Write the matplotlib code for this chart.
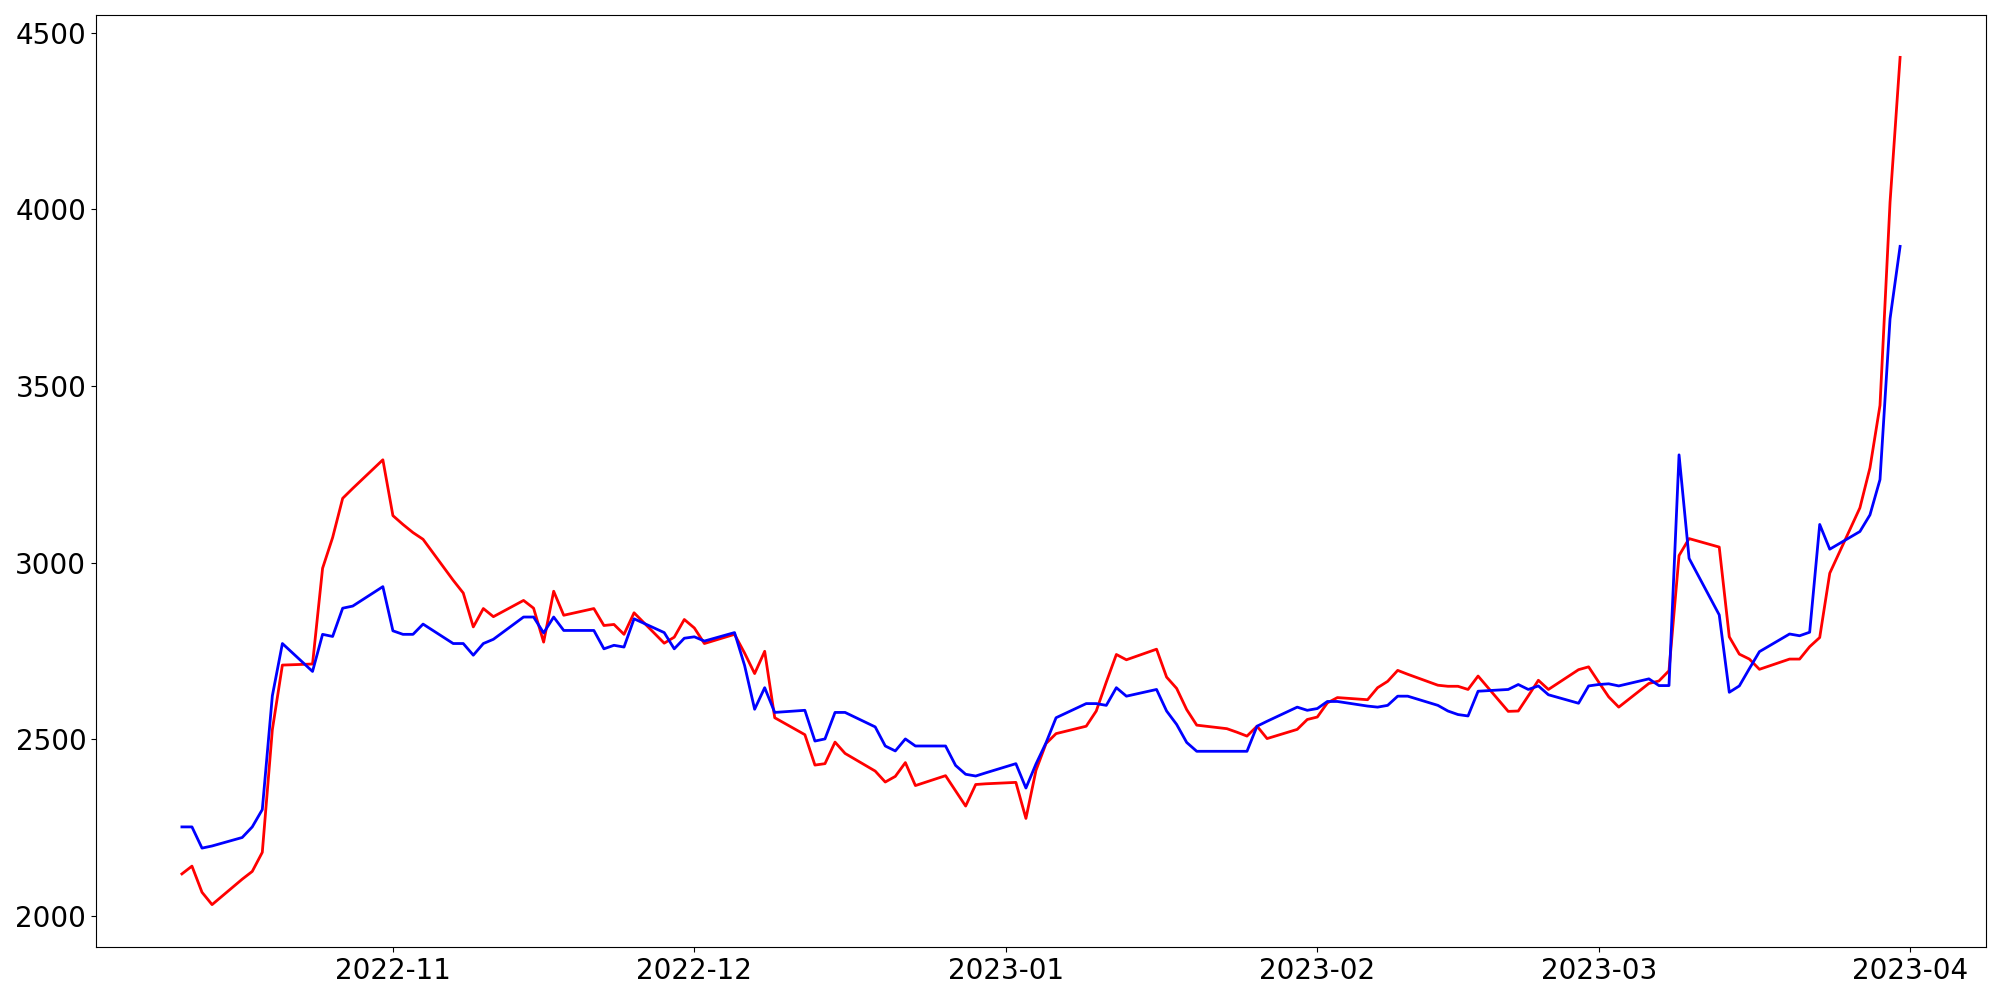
import matplotlib
matplotlib.use("Agg")
import matplotlib.pyplot as plt
import matplotlib.dates as mdates
import pandas as pd

# business days, 2022-10-11 .. 2023-03-31
dates = pd.bdate_range("2022-10-11", "2023-03-31")

red_oct = [2119, 2141, 2067, 2032, 2104, 2126, 2180, 2527, 2710, 2713, 2984,
           3071, 3182, 3210, 3291]
red_nov = [3133, 3108, 3085, 3066, 2950, 2914, 2818, 2870, 2847, 2893, 2871,
           2775, 2919, 2851, 2870, 2822, 2825, 2797, 2858, 2772, 2789, 2839]
red_dec = [2815, 2771, 2797, 2744, 2686, 2749, 2561, 2513, 2427, 2431, 2492,
           2460, 2410, 2379, 2395, 2434, 2369, 2397, 2354, 2311, 2372, 2374]
red_jan = [2378, 2276, 2412, 2488, 2516, 2537, 2580, 2662, 2740, 2725, 2755,
           2676, 2644, 2584, 2540, 2530, 2520, 2509, 2537, 2502, 2528, 2556]
red_feb = [2563, 2603, 2618, 2612, 2646, 2664, 2695, 2684, 2653, 2650, 2650,
           2641, 2679, 2579, 2580, 2623, 2667, 2641, 2697, 2705]
red_mar = [2662, 2620, 2591, 2658, 2665, 2694, 3020, 3068, 3044, 2790, 2741,
           2727, 2698, 2727, 2727, 2762, 2788, 2970, 3155, 3268, 3445, 4020,
           4430]

blue_oct = [2252, 2252, 2192, 2198, 2222, 2252, 2301, 2623, 2771, 2692, 2797,
            2791, 2871, 2877, 2932]
blue_nov = [2807, 2797, 2797, 2826, 2771, 2771, 2738, 2771, 2783, 2846, 2846,
            2801, 2846, 2808, 2808, 2756, 2766, 2761, 2841, 2802, 2756, 2786]
blue_dec = [2790, 2778, 2802, 2709, 2585, 2646, 2576, 2582, 2495, 2501, 2576,
            2576, 2535, 2481, 2467, 2501, 2481, 2481, 2426, 2401, 2396, 2405]
blue_jan = [2431, 2362, 2430, 2490, 2561, 2601, 2601, 2596, 2646, 2622, 2641,
            2580, 2542, 2491, 2466, 2466, 2466, 2466, 2537, 2551, 2591, 2582]
blue_feb = [2587, 2607, 2607, 2594, 2591, 2596, 2622, 2622, 2596, 2580, 2570,
            2566, 2636, 2641, 2655, 2641, 2651, 2626, 2602, 2651]
blue_mar = [2655, 2657, 2651, 2671, 2652, 2652, 3305, 3012, 2852, 2633, 2651,
            2700, 2748, 2798, 2793, 2803, 3108, 3038, 3088, 3135, 3235, 3690,
            3895]

red = red_oct + red_nov + red_dec + red_jan + red_feb + red_mar
blue = blue_oct + blue_nov + blue_dec + blue_jan + blue_feb + blue_mar

fig, ax = plt.subplots(figsize=(20, 10), dpi=100)
ax.plot(dates, red, color="red", lw=2)
ax.plot(dates, blue, color="blue", lw=2)

ax.xaxis.set_major_locator(mdates.MonthLocator())
ax.xaxis.set_major_formatter(mdates.DateFormatter("%Y-%m"))
ax.tick_params(labelsize=20)

fig.subplots_adjust(left=0.048, right=0.993, top=0.985, bottom=0.053)
fig.savefig("out.png", dpi=100)
